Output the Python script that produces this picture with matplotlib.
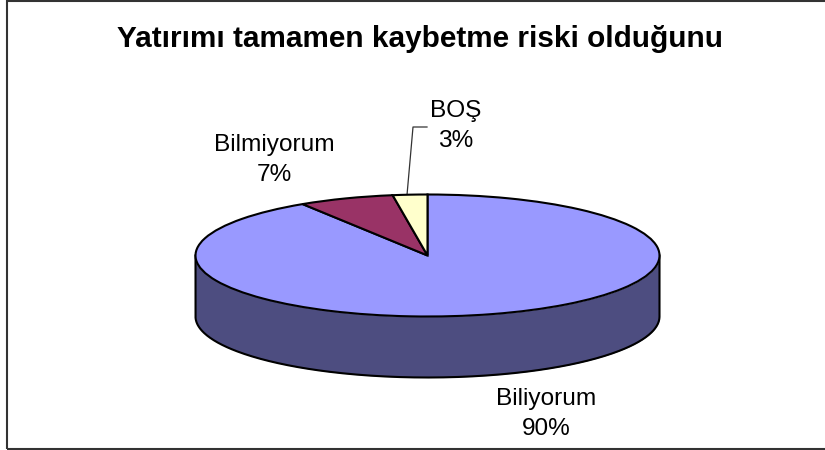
#!/usr/bin/env python3
"""3D-looking pie chart: Yatirimi tamamen kaybetme riski."""

import numpy as np
import matplotlib
matplotlib.use("Agg")
import matplotlib.pyplot as plt
from matplotlib.patches import Rectangle

plt.rcParams["font.family"] = ["Liberation Sans", "DejaVu Sans"]

TITLE = "Yatırımı tamamen kaybetme riski olduğunu"
categories = ["Biliyorum", "Bilmiyorum", "BOŞ"]
percent_labels = ["90%", "7%", "3%"]
# slice sizes as drawn in the picture (the tilt squeezes the rear slices)
values = [90.95, 6.65, 2.40]
colors = ["#9999FF", "#993366", "#FFFFCC"]
SIDE_COLOR = "#4D4D80"

W, H = 825, 450
CX, CY = 427.5, 255.5   # pie centre, pixels
RX, RY = 232, 61        # ellipse radii, pixels
DEPTH = 1.0             # side height in units of RY


def px(x):
    return (x - CX) / RX


def py(y):
    return (CY - y) / RY


fig = plt.figure(figsize=(W / 100, H / 100), dpi=100)
ax = fig.add_axes([0, 0, 1, 1])

# side of the cake, drawn as one outline so the corners join
t = np.linspace(np.pi, 2 * np.pi, 300)
ax.fill_between(np.cos(t), np.sin(t), np.sin(t) - DEPTH, color=SIDE_COLOR, lw=0, zorder=1)
ax.plot(np.r_[-1, np.cos(t), 1], np.r_[0, np.sin(t) - DEPTH, 0],
        color="k", lw=1.5, zorder=2, solid_joinstyle="round")

wedges, _ = ax.pie(values, colors=colors, startangle=90, counterclock=False, radius=1,
                   wedgeprops={"edgecolor": "k", "linewidth": 1.5, "zorder": 3})

ax.set_aspect("auto")
ax.set_xlim(px(0), px(W))
ax.set_ylim(py(H), py(0))
ax.axis("off")

# chart frame, right side runs off the image
fig.add_artist(Rectangle((6.5 / W, 1 - 449 / H), 2, 448 / H, transform=fig.transFigure,
                         fill=False, edgecolor="#333333", lw=1.5))

fig.text(420.5 / W, 1 - 39 / H, TITLE, ha="center", va="center",
         fontsize=21.4, fontweight="bold", color="k")

label_pos = [(546, 414), (274, 160), (456, 126)]
for name, pct, (x, y) in zip(categories, percent_labels, label_pos):
    fig.text(x / W, 1 - y / H, f"{name}\n{pct}", ha="center", va="center",
             fontsize=17.6, color="k", linespacing=1.45)

# leader line for BOS
ax.plot([px(407), px(413), px(427)], [py(195), py(127), py(127)],
        color="#333333", lw=0.9, zorder=2, clip_on=False)

fig.savefig("out.png", dpi=100)
